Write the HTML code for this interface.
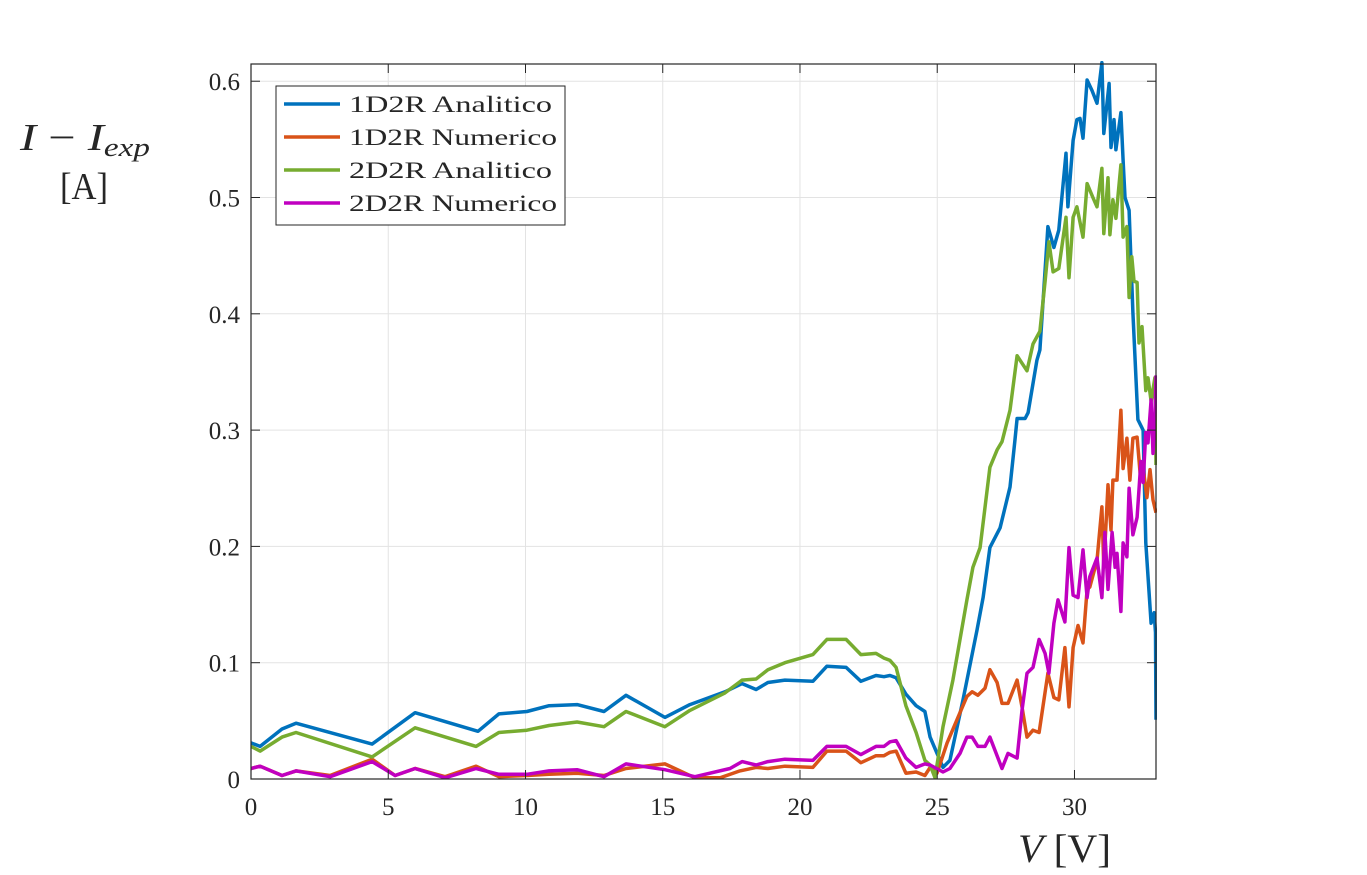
<!DOCTYPE html>
<html><head><meta charset="utf-8"><style>
html,body{margin:0;padding:0;background:#fff;}
svg{display:block;font-family:"Liberation Serif",serif;}
</style></head><body>
<svg id="chart" width="1367" height="875" viewBox="0 0 1367 875">
<g id="grid"></g>
<g id="series"></g>
<g id="axes"></g>
<g>
<rect x="276" y="86" width="289" height="139" fill="#fff" stroke="#262626" stroke-width="1"/>
<g><line x1="284" y1="104" x2="340" y2="104" stroke="#0072BD" stroke-width="3.5"/><text x="349" y="112" font-size="23" fill="#262626" textLength="203" lengthAdjust="spacingAndGlyphs">1D2R Analitico</text></g>
<g><line x1="284" y1="137" x2="340" y2="137" stroke="#D95319" stroke-width="3.5"/><text x="349" y="145" font-size="23" fill="#262626" textLength="208" lengthAdjust="spacingAndGlyphs">1D2R Numerico</text></g>
<g><line x1="284" y1="170" x2="340" y2="170" stroke="#77AC30" stroke-width="3.5"/><text x="349" y="178" font-size="23" fill="#262626" textLength="203" lengthAdjust="spacingAndGlyphs">2D2R Analitico</text></g>
<g><line x1="284" y1="203" x2="340" y2="203" stroke="#C000C0" stroke-width="3.5"/><text x="349" y="211" font-size="23" fill="#262626" textLength="208" lengthAdjust="spacingAndGlyphs">2D2R Numerico</text></g>
</g>
<g>
<text x="20" y="150" font-size="38" fill="#262626" font-style="italic" textLength="130" lengthAdjust="spacingAndGlyphs">I <tspan font-style="normal">−</tspan> I<tspan font-size="26" dy="6">exp</tspan></text>
<text x="60" y="199" font-size="38" fill="#262626" textLength="48" lengthAdjust="spacingAndGlyphs">[A]</text>
</g>
<text x="1018" y="862" font-size="40" fill="#262626" textLength="93" lengthAdjust="spacingAndGlyphs"><tspan font-style="italic">V</tspan>  [V]</text>
</svg>
<script>
const xTicks=[0,5,10,15,20,25,30];
const yTicks=[0,0.1,0.2,0.3,0.4,0.5,0.6];
const yTickLabels=["0","0.1","0.2","0.3","0.4","0.5","0.6"];
const seriesNames=["1D2R Analitico","1D2R Numerico","2D2R Analitico","2D2R Numerico"];
const blueV=[0,.33,1.13,1.64,4.41,5.98,8.27,9.03,10.05,10.86,11.88,12.86,13.66,15.08,15.99,17.27,17.89,18.4,18.83,19.45,20.47,20.98,21.68,22.22,22.77,23.06,23.28,23.5,23.86,24.23,24.55,24.74,25.21,25.46,25.94,26.45,26.67,26.92,27.29,27.65,27.83,27.91,28.2,28.31,28.63,28.74,29.03,29.25,29.43,29.69,29.76,29.95,30.09,30.2,30.31,30.46,30.64,30.82,31.0,31.07,31.26,31.33,31.44,31.51,31.69,31.77,31.84,31.99,32.13,32.31,32.5,32.6,32.79,32.9,32.95,32.97];
const blueI=[.031,.028,.043,.048,.030,.057,.041,.056,.058,.063,.064,.058,.072,.053,.064,.075,.082,.077,.083,.085,.084,.097,.096,.084,.089,.088,.089,.087,.073,.063,.058,.036,.010,.016,.068,.128,.156,.199,.216,.251,.291,.31,.31,.315,.36,.369,.475,.457,.472,.538,.492,.549,.567,.568,.551,.601,.592,.581,.616,.555,.598,.543,.567,.541,.573,.532,.5,.489,.401,.309,.3,.203,.134,.143,.126,.051];
const orangeV=[0,.33,1.13,1.64,2.88,4.41,5.25,5.98,7.07,8.2,9.03,10.05,10.86,11.88,12.86,13.66,15.08,16.17,17.09,17.81,18.4,18.83,19.45,20.47,20.98,21.68,22.22,22.77,23.06,23.28,23.5,23.86,24.23,24.55,24.74,24.99,25.36,25.72,26.08,26.27,26.48,26.74,26.92,27.18,27.36,27.58,27.91,28.09,28.27,28.49,28.71,29.03,29.25,29.43,29.65,29.8,29.95,30.13,30.31,30.46,30.56,30.82,31.0,31.07,31.22,31.33,31.4,31.55,31.69,31.77,31.91,32.02,32.13,32.28,32.39,32.5,32.64,32.75,32.86,32.97];
const orangeI=[.009,.011,.003,.007,.003,.017,.003,.009,.002,.011,.002,.003,.004,.005,.003,.009,.013,.001,.001,.007,.010,.009,.011,.010,.024,.024,.014,.02,.02,.023,.024,.005,.006,.003,.01,.005,.031,.051,.071,.075,.072,.078,.094,.083,.065,.065,.085,.062,.036,.042,.04,.091,.07,.068,.113,.062,.113,.132,.117,.163,.165,.188,.234,.182,.253,.214,.257,.257,.317,.267,.293,.257,.293,.294,.263,.268,.242,.266,.240,.229];
const greenV=[0,.33,1.13,1.64,4.41,5.98,8.2,9.03,10.05,10.86,11.88,12.86,13.66,15.08,15.99,17.27,17.89,18.4,18.83,19.45,20.47,20.98,21.68,22.22,22.77,23.06,23.28,23.5,23.86,24.23,24.55,24.74,24.92,25.21,25.57,26.08,26.3,26.56,26.92,27.18,27.36,27.65,27.91,28.27,28.49,28.74,28.93,29.07,29.22,29.43,29.69,29.8,29.95,30.09,30.31,30.46,30.67,30.82,31.0,31.07,31.22,31.29,31.4,31.51,31.69,31.77,31.91,31.99,32.09,32.17,32.28,32.35,32.46,32.6,32.68,32.79,32.93,32.97];
const greenI=[.028,.024,.036,.040,.019,.044,.028,.040,.042,.046,.049,.045,.058,.045,.059,.074,.085,.086,.094,.1,.107,.12,.12,.107,.108,.104,.102,.096,.063,.040,.016,.012,.001,.045,.085,.154,.182,.199,.268,.283,.29,.317,.364,.351,.374,.385,.428,.462,.436,.439,.483,.431,.483,.492,.466,.512,.5,.492,.525,.469,.517,.468,.498,.482,.528,.466,.475,.414,.449,.428,.427,.375,.389,.334,.345,.325,.345,.27];
const magentaV=[0,.33,1.13,1.64,2.88,4.41,5.25,5.98,7.07,8.2,9.03,10.05,10.86,11.88,12.86,13.66,15.08,16.17,17.45,17.89,18.4,18.83,19.45,20.47,20.98,21.68,22.22,22.77,23.06,23.28,23.5,23.86,24.23,24.55,24.74,25.21,25.46,25.83,26.08,26.27,26.48,26.74,26.92,27.36,27.58,27.91,28.09,28.27,28.49,28.71,28.93,29.07,29.25,29.4,29.65,29.8,29.95,30.13,30.31,30.46,30.56,30.82,31.0,31.11,31.22,31.37,31.48,31.55,31.69,31.77,31.91,31.99,32.13,32.28,32.42,32.5,32.6,32.68,32.79,32.86,32.93,32.97];
const magentaI=[.009,.011,.003,.007,.002,.015,.003,.009,.001,.009,.004,.004,.007,.008,.002,.013,.008,.002,.009,.015,.012,.015,.017,.016,.028,.028,.021,.028,.028,.032,.033,.018,.010,.013,.012,.006,.009,.022,.036,.036,.028,.028,.036,.009,.022,.018,.059,.091,.096,.120,.108,.091,.134,.154,.135,.199,.158,.156,.197,.156,.174,.19,.156,.212,.163,.212,.182,.194,.144,.203,.191,.250,.210,.225,.273,.255,.298,.289,.326,.280,.309,.347];

const X0=251,X1=1156,Y0=779,Y1=64,XMAX=32.97,YMAX=0.6148;
const sx=v=>X0+(X1-X0)*v/XMAX;
const sy=v=>Y0-(Y0-Y1)*v/YMAX;
const NS="http://www.w3.org/2000/svg";
const mk=(t,a,p)=>{const e=document.createElementNS(NS,t);for(const k in a)e.setAttribute(k,a[k]);p.appendChild(e);return e;};
const grid=document.getElementById('grid'),axes=document.getElementById('axes'),ser=document.getElementById('series');
xTicks.forEach(t=>{
  const g=mk('line',{x1:sx(t),x2:sx(t),y1:Y1,y2:Y0,stroke:'#e3e3e3','stroke-width':1},grid);
  
  
  mk('line',{x1:sx(t),x2:sx(t),y1:Y0,y2:Y0-9,stroke:'#262626','stroke-width':1},axes);
  mk('line',{x1:sx(t),x2:sx(t),y1:Y1,y2:Y1+9,stroke:'#262626','stroke-width':1},axes);
  const l=mk('text',{x:sx(t),y:Y0+36,'text-anchor':'middle','font-size':25,fill:'#262626'},axes);
  l.textContent=String(t);
  
  
});
yTicks.forEach((t,i)=>{
  const g=mk('line',{x1:X0,x2:X1,y1:sy(t),y2:sy(t),stroke:'#e3e3e3','stroke-width':1},grid);
  
  
  mk('line',{x1:X0,x2:X0+9,y1:sy(t),y2:sy(t),stroke:'#262626','stroke-width':1},axes);
  mk('line',{x1:X1,x2:X1-9,y1:sy(t),y2:sy(t),stroke:'#262626','stroke-width':1},axes);
  const l=mk('text',{x:X0-11,y:sy(t)+9,'text-anchor':'end','font-size':25,fill:'#262626'},axes);
  l.textContent=yTickLabels[i];
  
  
});
const box=mk('rect',{x:X0,y:Y1,width:X1-X0,height:Y0-Y1,fill:'none',stroke:'#262626','stroke-width':1.2},axes);


const defs=mk('defs',{},ser);const cp=mk('clipPath',{id:'cp'},defs);mk('rect',{x:X0,y:Y1-3,width:X1-X0+1,height:Y0-Y1+3},cp);
const all=[[blueV,blueI,'#0072BD','line-1d2r-analitico'],[orangeV,orangeI,'#D95319','line-1d2r-numerico'],[greenV,greenI,'#77AC30','line-2d2r-analitico'],[magentaV,magentaI,'#C000C0','line-2d2r-numerico']];
all.forEach(s=>{
  const d=s[0].map((v,i)=>(i?'L':'M')+sx(v).toFixed(1)+','+sy(s[1][i]).toFixed(1)).join(' ');
  const p=mk('path',{d:d,fill:'none',stroke:s[2],'stroke-width':3.5,'stroke-linejoin':'round','clip-path':'url(#cp)'},ser);
  
  
});
</script>
</body></html>
